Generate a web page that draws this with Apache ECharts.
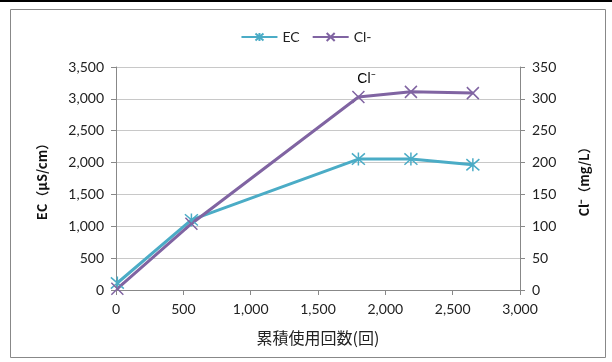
<!DOCTYPE html>
<html><head><meta charset="utf-8">
<script src="https://cdn.jsdelivr.net/npm/echarts@6/dist/echarts.min.js"></script>
<style>html,body{margin:0;padding:0;background:#fff}#c{width:612px;height:362px}</style>
</head><body><div id="c"></div>
<script>
const usage = [10, 560, 1800, 2190, 2650];
const ecValues = [110, 1100, 2055, 2055, 1965];
const clValues = [2, 104, 303, 311, 309];
const seriesNames = ['EC', 'Cl-'];
const xName = '累積使用回数(回)';
const yLeftName = 'EC（μS/cm）';
const yRightName = 'Cl⁻（mg/L）';

const chart = echarts.init(document.getElementById('c'));
const asterisk = 'path://M0,-10L0,10M-8.66,-8.66L8.66,8.66M-8.66,8.66L8.66,-8.66';
const cross = 'path://M-10,-10L10,10M-10,10L10,-10';
const font = 'Lato, "Noto Sans CJK JP", sans-serif';
chart.setOption({
  animation: false,
  backgroundColor: '#fff',
  graphic: [{type:'rect', shape:{x:10.5,y:9.5,width:595,height:348}, style:{fill:'none', stroke:'#888', lineWidth:1}},
            {type:'rect', shape:{x:0,y:0,width:612,height:2}, style:{fill:'#000'}}],
  legend: {top: 25, left: 'center', itemWidth: 36, itemHeight: 10, itemGap: 12,
    textStyle: {fontFamily: font, fontSize: 14, color: '#222'},
    data: seriesNames},
  grid: {left: 116, right: 92, top: 67, bottom: 72},
  xAxis: {type: 'value', min: 0, max: 3000, interval: 500,
    name: xName, nameLocation: 'middle', nameGap: 40,
    nameTextStyle: {fontFamily: '"Noto Sans CJK JP", sans-serif', fontSize: 16, color: '#222'},
    axisLine: {lineStyle: {color: '#888'}}, axisTick: {show: true, length: 5, lineStyle: {color: '#888'}},
    axisLabel: {fontFamily: font, fontSize: 14, color: '#222', margin: 12, formatter: v => v.toLocaleString('en-US')},
    splitLine: {show: false}},
  yAxis: [{type: 'value', min: 0, max: 3500, interval: 500, position: 'left',
      name: yLeftName, nameLocation: 'middle', nameGap: 67, nameRotate: 90,
      nameTextStyle: {fontFamily: '"Noto Sans CJK JP", sans-serif', fontSize: 13, fontWeight: 'bold', color: '#111'},
      axisLine: {show: true, lineStyle: {color: '#888'}}, axisTick: {show: true, length: 5, lineStyle: {color: '#888'}},
      axisLabel: {fontFamily: font, fontSize: 14, color: '#222', margin: 12, formatter: v => v.toLocaleString('en-US')},
      splitLine: {lineStyle: {color: '#c8c8c8'}}},
    {type: 'value', min: 0, max: 350, interval: 50, position: 'right',
      name: yRightName, nameLocation: 'middle', nameGap: 58, nameRotate: 90,
      nameTextStyle: {fontFamily: '"Noto Sans CJK JP", sans-serif', fontSize: 13, fontWeight: 'bold', color: '#111'},
      axisLine: {show: true, lineStyle: {color: '#888'}}, axisTick: {show: true, length: 5, lineStyle: {color: '#888'}},
      axisLabel: {fontFamily: font, fontSize: 14, color: '#222', margin: 12},
      splitLine: {show: false}}],
  series: [
    {name: seriesNames[0], type: 'line', yAxisIndex: 0, data: usage.map((x,i)=>[x, ecValues[i]]),
      symbol: asterisk, symbolSize: 13, showAllSymbol: true,
      lineStyle: {color: '#4BACC6', width: 3}, itemStyle: {color: '#4BACC6', borderColor: '#4BACC6', borderWidth: 1.5}},
    {name: seriesNames[1], type: 'line', yAxisIndex: 1,
      data: usage.map((x,i)=> i===2 ? {value:[x, clValues[i]], label:{show:true, formatter:'Cl⁻', position:'top', offset:[8,1], fontFamily:'Liberation Sans, sans-serif', fontSize:14, color:'#000'}} : [x, clValues[i]]),
      symbol: cross, symbolSize: 12, showAllSymbol: true,
      lineStyle: {color: '#8064A2', width: 3}, itemStyle: {color: '#8064A2', borderColor: '#8064A2', borderWidth: 1.5}}
  ]
});
</script></body></html>
